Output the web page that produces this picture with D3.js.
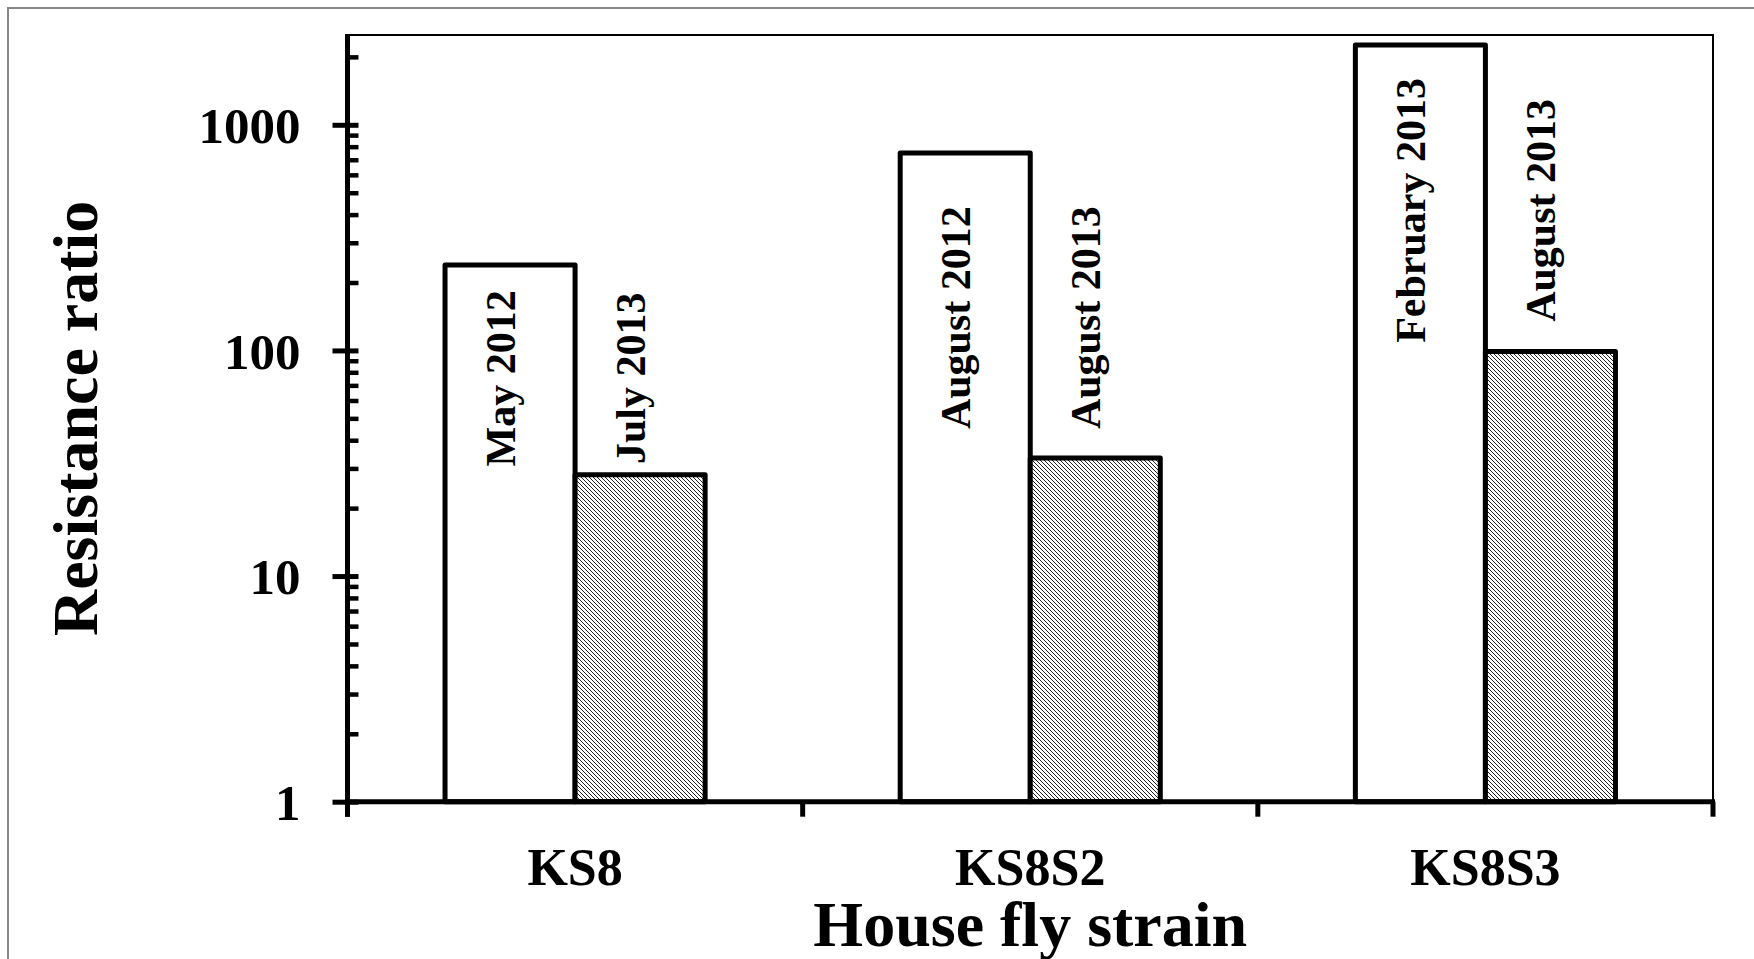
<!DOCTYPE html>
<html>
<head>
<meta charset="utf-8">
<script src="https://cdn.jsdelivr.net/npm/d3@7"></script>
<style>
  html, body { margin: 0; padding: 0; background: #fff; }
  svg { display: block; }
  text { font-family: "Liberation Serif", "Times New Roman", serif; font-weight: bold; fill: #000; }
</style>
</head>
<body>
<svg id="chart" width="1754" height="959"></svg>
<script>
// ---- data ----
const categories = ["KS8", "KS8S2", "KS8S3"];
const seriesKeys = ["first", "second"];
const firstValues = [239, 750, 2260];
const secondValues = [28.1, 33.4, 99];
const firstLabels = ["May 2012", "August 2012", "February 2013"];
const secondLabels = ["July 2013", "August 2013", "August 2013"];
const yTickValues = [1, 10, 100, 1000];
const yDomain = [1, 2500];
const xTitle = "House fly strain";
const yTitle = "Resistance ratio";

// ---- layout ----
const W = 1754, H = 959;
const plot = { left: 347.5, right: 1713, top: 35, bottom: 801.7 };

const svg = d3.select("#chart");
const defs = svg.append("defs");
const pat = defs.append("pattern")
  .attr("id", "hatch").attr("patternUnits", "userSpaceOnUse")
  .attr("width", 4).attr("height", 4);
pat.append("rect").attr("width", 4).attr("height", 4).attr("fill", "#fff");
pat.append("path").attr("d", "M-1,-1 L5,5 M-1,3 L1,5 M3,-1 L5,1")
  .attr("stroke", "#222").attr("stroke-width", 1.0);

// outer frame (only left/top visible)
svg.append("rect").attr("x", 8).attr("y", 8).attr("width", W + 20).attr("height", H + 20)
  .attr("fill", "none").attr("stroke", "#888").attr("stroke-width", 2);

const x = d3.scaleBand().domain(categories).range([plot.left, plot.right])
  .paddingInner(3 / 7).paddingOuter(1.5 / 7);
const xs = d3.scaleBand().domain(seriesKeys).range([0, x.bandwidth()]);
const y = d3.scaleLog().domain(yDomain).range([plot.bottom, plot.top]);

const rows = categories.map((c, i) => ({
  cat: c,
  first: firstValues[i], second: secondValues[i],
  firstLabel: firstLabels[i], secondLabel: secondLabels[i]
}));

// plot border (thin top/right)
svg.append("path")
  .attr("d", `M${plot.left},${plot.top} H${plot.right} V${plot.bottom}`)
  .attr("fill", "none").attr("stroke", "#000").attr("stroke-width", 2);

// bars
const g = svg.append("g");
rows.forEach(r => {
  seriesKeys.forEach(k => {
    g.append("rect")
      .attr("x", x(r.cat) + xs(k))
      .attr("y", y(r[k]))
      .attr("width", xs.bandwidth())
      .attr("height", y(1) - y(r[k]))
      .attr("fill", k === "first" ? "#fff" : "url(#hatch)")
      .attr("stroke", "#000").attr("stroke-width", 5)
      .attr("stroke-linejoin", "round");
  });
});

// bar labels (rotated)
const frac = 0.54;
rows.forEach(r => {
  const cy = y(r.first) + frac * (y(r.second) - y(r.first));
  [["first", r.firstLabel], ["second", r.secondLabel]].forEach(([k, lab]) => {
    const cx = x(r.cat) + xs(k) + xs.bandwidth() / 2;
    svg.append("text")
      .attr("transform", `translate(${cx},${cy}) rotate(-90)`)
      .attr("text-anchor", "middle")
      .attr("dy", "0.12em")
      .style("font-size", "42px")
      .text(lab);
  });
});

// y axis
const minor = [];
for (let d = 1; d < 10000; d *= 10) {
  for (let m = 2; m <= 9; m++) { const v = d * m; if (v <= yDomain[1]) minor.push(v); }
}
const yMinorAxis = d3.axisRight(y).tickValues(minor).tickSize(11).tickFormat("");
const gMinor = svg.append("g").attr("transform", `translate(${plot.left},0)`).call(yMinorAxis);
gMinor.select(".domain").remove();
gMinor.selectAll(".tick line").attr("stroke", "#000").attr("stroke-width", 4.5);

const yAxis = d3.axisLeft(y).tickValues(yTickValues).tickSizeInner(15).tickSizeOuter(0)
  .tickPadding(32).tickFormat(d3.format("d"));
const gY = svg.append("g").attr("transform", `translate(${plot.left},0)`).call(yAxis);
gY.select(".domain").remove();
gY.selectAll(".tick line").attr("x1", 11).attr("x2", -15).attr("stroke", "#000").attr("stroke-width", 5);
gY.selectAll(".tick text").style("font-size", "51px")
  .style("font-family", "'Liberation Serif','Times New Roman',serif").style("font-weight", "bold")
  .attr("dy", "0.35em").attr("fill", "#000");

// x axis
const xAxis = d3.axisBottom(x).tickSize(0).tickPadding(46);
const gX = svg.append("g").attr("transform", `translate(0,${plot.bottom})`).call(xAxis);
gX.select(".domain").remove();
gX.selectAll(".tick text").style("font-size", "52px")
  .style("font-family", "'Liberation Serif','Times New Roman',serif").style("font-weight", "bold")
  .attr("dy", "0.71em").attr("fill", "#000");
// category boundary ticks
const bounds = categories.map(c => x(c) - x.step() * x.paddingInner() / 2)
  .map((v, i) => i === 0 ? plot.left : v).concat([plot.right]);
gX.selectAll(".bound").data(bounds).enter().append("line")
  .attr("x1", d => d).attr("x2", d => d).attr("y1", 0).attr("y2", 15)
  .attr("stroke", "#000").attr("stroke-width", 5);

// axis lines
svg.append("line").attr("x1", plot.left).attr("x2", plot.left)
  .attr("y1", plot.top - 1).attr("y2", plot.bottom + 15)
  .attr("stroke", "#000").attr("stroke-width", 5);
svg.append("line").attr("x1", plot.left).attr("x2", plot.right + 2)
  .attr("y1", plot.bottom).attr("y2", plot.bottom)
  .attr("stroke", "#000").attr("stroke-width", 5);

// titles
svg.append("text").attr("x", (plot.left + plot.right) / 2).attr("y", 946)
  .attr("text-anchor", "middle").style("font-size", "64px").text(xTitle);
svg.append("text").attr("transform", `translate(97,${(plot.top + plot.bottom) / 2}) rotate(-90)`)
  .attr("text-anchor", "middle").style("font-size", "64px").text(yTitle);
</script>
</body>
</html>
